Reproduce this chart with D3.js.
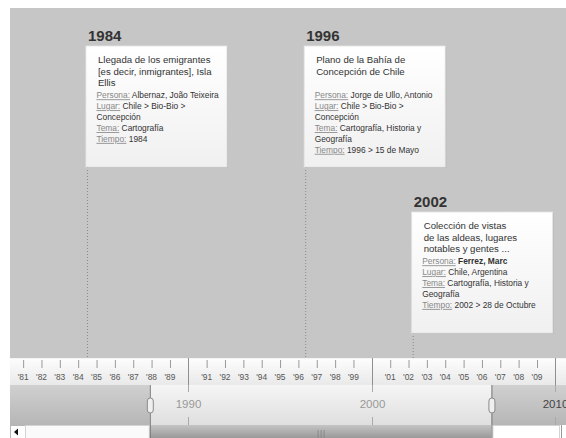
<!DOCTYPE html>
<html>
<head>
<meta charset="utf-8">
<script src="https://cdn.jsdelivr.net/npm/d3@7"></script>
<style>
body{margin:0;background:#fff;}
svg{display:block;font-family:"Liberation Sans",Arial,sans-serif;}
</style>
</head>
<body>
<div id="chartId"></div>
<script>
// events shown on the timeline
var years = ["1984", "1996", "2002"];
var dates = ["1984-06-24", "1996-05-15", "2002-03-25"];
var titles = [
    ["Llegada de los emigrantes", "[es decir, inmigrantes], Isla", "Ellis"],
    ["Plano de la Bahía de", "Concepción de Chile"],
    ["Colección de vistas", "de las aldeas, lugares", "notables y gentes ..."]
];
var personas = [["Albernaz, João Teixeira"], ["Jorge de Ullo, Antonio"], ["Ferrez, Marc"]];
var lugares = [["Chile > Bio-Bio >", "Concepción"], ["Chile > Bio-Bio >", "Concepción"], ["Chile, Argentina"]];
var temas = [["Cartografía"], ["Cartografía, Historia y", "Geografía"], ["Cartografía, Historia y", "Geografía"]];
var tiempos = [["1984"], ["1996 > 15 de Mayo"], ["2002 > 28 de Octubre"]];
var boldPersona = [false, false, true];

// band ticks
var minorYears = [1981,1982,1983,1984,1985,1986,1987,1988,1989,1991,1992,1993,1994,1995,1996,1997,1998,1999,2001,2002,2003,2004,2005,2006,2007,2008,2009];
var decadeYears = [1990, 2000, 2010];
var windowRange = ["1987-11-27", "2006-07-09"];

var W = 566, H = 438;
var parse = d3.timeParse("%Y-%m-%d");
var x = d3.scaleTime()
    .domain([new Date(1990,0,1), new Date(2000,0,1)])
    .range([188.3, 371.8]);

var svg = d3.select("#chartId").append("svg").attr("width",W).attr("height",H);
var defs = svg.append("defs");
function grad(id, c1, c2){
    var g = defs.append("linearGradient").attr("id",id).attr("x1",0).attr("y1",0).attr("x2",0).attr("y2",1);
    g.append("stop").attr("offset","0%").attr("stop-color",c1);
    g.append("stop").attr("offset","100%").attr("stop-color",c2);
}
grad("boxG","#ffffff","#f0f0f0");
grad("tickG","#fdfdfd","#e9e9e9");
grad("ovOut","#d0d0d0","#b6b6b6");
grad("ovIn","#f5f5f5","#dfdfdf");
grad("thumbG","#c4c4c4","#999999");

var leftX = 10, topY = 8, bandTop = 358, bandBot = 385, ovBot = 425;

// main gray area
svg.append("rect").attr("x",leftX).attr("y",topY).attr("width",W-leftX).attr("height",bandTop-topY).attr("fill","#c6c6c6");

// events: simple row layout so boxes don't overlap
var boxW = 141, boxH = 121, rowTop = 46, rowStep = 166;
var events = years.map(function(y,i){
    return {year:y, date:parse(dates[i]), title:titles[i],
        props:[["Persona:",personas[i],boldPersona[i]],["Lugar:",lugares[i],false],["Tema:",temas[i],false],["Tiempo:",tiempos[i],false]]};
});
var rowsEnd = [];
events.forEach(function(e){
    var px = x(e.date), r = 0;
    while(rowsEnd[r]!=undefined && rowsEnd[r] > px - 2) r++;
    rowsEnd[r] = px + boxW;
    e.row = r;
});

var ev = svg.append("g").selectAll("g").data(events).enter().append("g")
    .attr("transform",function(d){return "translate("+(x(d.date)-1)+","+(rowTop+d.row*rowStep)+")";});

ev.append("line")
    .attr("x1",1.5).attr("x2",1.5)
    .attr("y1",boxH).attr("y2",function(d){return bandTop-(rowTop+d.row*rowStep);})
    .attr("stroke","#8a8a8a").attr("stroke-dasharray","1,2");
ev.append("rect").attr("x",1).attr("y",1).attr("width",boxW).attr("height",boxH).attr("fill","#a8a8a8").attr("opacity",0.6);
ev.append("rect").attr("width",boxW).attr("height",boxH).attr("fill","url(#boxG)").attr("stroke","#e4e4e4").attr("stroke-width",0.8);
ev.append("text").text(function(d){return d.year;})
    .attr("x",2).attr("y",-5.5)
    .style("font-size","15px").style("font-weight","bold").attr("fill","#333");

ev.each(function(d){
    var g = d3.select(this);
    var t = g.append("text").attr("fill","#333").style("font-size","9.6px");
    d.title.forEach(function(line,i){
        t.append("tspan").attr("x",12).attr("y",17.3+i*11.2).text(line);
    });
    var ln = 0;
    d.props.forEach(function(p){
        p[1].forEach(function(val,j){
            var tx = g.append("text").attr("x",10.5).attr("y",52.3+ln*10.9).style("font-size","8.4px");
            if(j==0){
                tx.append("tspan").attr("fill","#888").style("text-decoration","underline").text(p[0]);
                tx.append("tspan").attr("fill","#333").style("font-weight",p[2]?"bold":"normal").text(" "+val);
            } else {
                tx.append("tspan").attr("fill","#333").text(val);
            }
            ln++;
        });
    });
});

// tick band
svg.append("rect").attr("x",leftX).attr("y",bandTop).attr("width",W-leftX).attr("height",bandBot-bandTop).attr("fill","url(#tickG)");
svg.append("line").attr("x1",leftX).attr("x2",W).attr("y1",bandTop+0.5).attr("y2",bandTop+0.5).attr("stroke","#f4f4f4");
var minorAxis = d3.axisBottom(x)
    .tickValues(minorYears.map(function(y){return new Date(y,0,1);}))
    .tickFormat(function(d){return "'"+d3.timeFormat("%y")(d);})
    .tickSize(8).tickPadding(6);
var ax = svg.append("g").attr("transform","translate(0,360)").call(minorAxis);
ax.select(".domain").remove();
ax.selectAll("line").attr("stroke","#9a9a9a");
ax.selectAll("text").attr("fill","#555").style("font-size","8.4px").attr("dx","-0.5");

// overview band
var w0 = x(parse(windowRange[0])), w1 = x(parse(windowRange[1]));
svg.append("rect").attr("x",leftX).attr("y",bandBot).attr("width",W-leftX).attr("height",ovBot-bandBot).attr("fill","url(#ovOut)");
svg.append("rect").attr("x",w0).attr("y",bandBot).attr("width",w1-w0).attr("height",ovBot-bandBot).attr("fill","url(#ovIn)");

var dec = svg.append("g").selectAll("g").data(decadeYears).enter().append("g")
    .attr("transform",function(d){return "translate("+(Math.round(x(new Date(d,0,1)))+0.5)+",0)";});
dec.append("line").attr("y1",bandTop).attr("y2",bandBot).attr("stroke","#8f8f8f");
dec.append("line").attr("y1",bandBot).attr("y2",392).attr("stroke","#a9a9a9");
dec.append("line").attr("y1",417).attr("y2",ovBot).attr("stroke","#a9a9a9");
dec.append("text").text(function(d){return d;})
    .attr("y",407.7).attr("text-anchor","middle").style("font-size","11.5px")
    .attr("fill",function(d){var px=x(new Date(d,0,1));return px>w0&&px<w1?"#999":"#444";});

// scrollbar row
svg.append("rect").attr("x",leftX).attr("y",ovBot).attr("width",W-leftX).attr("height",H-ovBot).attr("fill","#fff");
svg.append("rect").attr("x",leftX+0.5).attr("y",ovBot+0.5).attr("width",15).attr("height",14).attr("fill","#fff").attr("stroke","#b5b5b5");
svg.append("path").attr("d","M14,432 L18,428.5 L18,435.5 Z").attr("fill","#111");
svg.append("rect").attr("x",25.5).attr("y",ovBot+0.5).attr("width",w0-26).attr("height",14).attr("fill","#fafafa").attr("stroke","#d4d4d4");
svg.append("rect").attr("x",w0).attr("y",ovBot).attr("width",w1-w0).attr("height",H-ovBot).attr("fill","url(#thumbG)");
svg.append("rect").attr("x",w1+1.5).attr("y",ovBot+0.5).attr("width",560-w1-2).attr("height",14).attr("fill","#fff").attr("stroke","#d4d4d4");
svg.append("line").attr("x1",561.5).attr("x2",561.5).attr("y1",ovBot).attr("y2",H).attr("stroke","#999");
var gx = (w0+w1)/2;
[-3,0,3].forEach(function(o){
    svg.append("line").attr("x1",gx+o+0.5).attr("x2",gx+o+0.5).attr("y1",430).attr("y2",H).attr("stroke","#8a8a8a");
});

// window edges and handles
[w0,w1].forEach(function(px){
    svg.append("line").attr("x1",px+0.5).attr("x2",px+0.5).attr("y1",bandBot).attr("y2",H).attr("stroke","#7a7a7a");
    svg.append("rect").attr("x",px-2.5).attr("y",398).attr("width",6).attr("height",15).attr("rx",3)
        .attr("fill","#efefef").attr("stroke","#8a8a8a");
});
</script>
</body>
</html>
